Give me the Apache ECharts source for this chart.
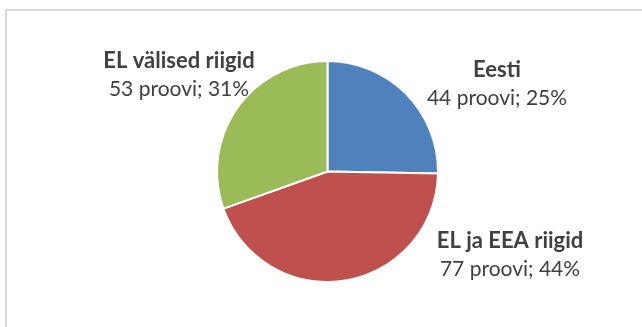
<!DOCTYPE html>
<html>
<head>
<meta charset="utf-8">
<script src="https://cdn.jsdelivr.net/npm/echarts@6/dist/echarts.min.js"></script>
<style>
  html, body { margin: 0; padding: 0; background: #fff; overflow: hidden; }
  #frame { position: absolute; left: 5px; top: 9px; width: 700px; height: 400px; border: 2px solid #d9d9d9; }
  #chart { position: absolute; left: 0; top: 0; width: 642px; height: 327px; }
</style>
</head>
<body>
<div id="frame"></div>
<div id="chart"></div>
<script>
// andmed
var names = ['Eesti', 'EL ja EEA riigid', 'EL välised riigid'];
var samples = [44, 77, 53];
var percents = [25, 44, 31];

// siltide asukohad (keskpunkt)
var labelPos = [[497, 84], [510, 255], [179, 75]];

var myChart = echarts.init(document.getElementById('chart'));

var pieData = [];
for (var i = 0; i < names.length; i++) {
  pieData.push({ name: names[i], value: samples[i] });
}

var option = {
  animation: false,
  color: ['#4f81bd', '#c0504d', '#9bbb59'],
  series: [
    {
      type: 'pie',
      center: [327.5, 171.5],
      radius: 110.5,
      startAngle: 90,
      clockwise: true,
      itemStyle: { borderColor: '#fff', borderWidth: 2 },
      label: {
        show: true,
        formatter: function (p) {
          return '{b|' + p.name + '}\n{v|' + p.value + ' proovi; ' + percents[p.dataIndex] + '%}';
        },
        rich: {
          b: { fontFamily: 'Lato', fontWeight: 'bold', fontSize: 22, color: '#404040', lineHeight: 29, align: 'center' },
          v: { fontFamily: 'Lato', fontSize: 21, color: '#404040', lineHeight: 29, align: 'center' }
        }
      },
      labelLine: { show: false },
      labelLayout: function (params) {
        var pos = labelPos[params.dataIndex];
        return { x: pos[0], y: pos[1], align: 'center', verticalAlign: 'middle' };
      },
      emphasis: { disabled: true },
      data: pieData
    }
  ]
};
myChart.setOption(option);
</script>
</body>
</html>
